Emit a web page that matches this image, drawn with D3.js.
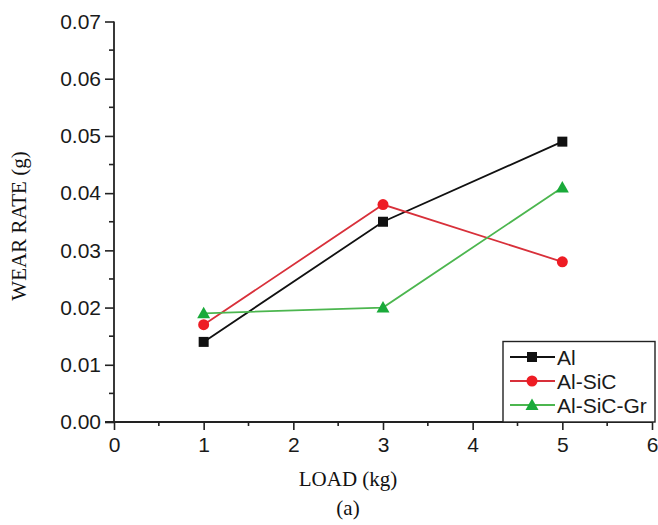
<!DOCTYPE html>
<html><head><meta charset="utf-8">
<script src="https://cdn.jsdelivr.net/npm/d3@7"></script>
<style>body{margin:0;background:#fff}</style>
</head><body>
<script>
const loads = [1, 3, 5];
const alValues = [0.014, 0.035, 0.049];
const alSicValues = [0.017, 0.038, 0.028];
const alSicGrValues = [0.019, 0.020, 0.041];
const seriesNames = ["Al", "Al-SiC", "Al-SiC-Gr"];
const xTicks = [0, 1, 2, 3, 4, 5, 6];
const yTicks = [0, 0.01, 0.02, 0.03, 0.04, 0.05, 0.06, 0.07];

const series = [
  {name: seriesNames[0], values: alValues, color: "#111111", marker: "square"},
  {name: seriesNames[1], values: alSicValues, color: "#d8303a", mcolor: "#ee1c24", marker: "circle"},
  {name: seriesNames[2], values: alSicGrValues, color: "#4cb64f", mcolor: "#1aaa3a", marker: "triangle"}
];

const W = 658, H = 525;
const svg = d3.select("body").append("svg").attr("width", W).attr("height", H);
const x = d3.scaleLinear().domain([0, 6]).range([114, 652]);
const y = d3.scaleLinear().domain([0, 0.07]).range([422, 21.5]);

const axisColor = "#222";
const tickFont = "'Liberation Sans', Arial, Helvetica, sans-serif";
const serifFont = "'Liberation Serif', 'Times New Roman', Times, serif";
const fs = "21px";

// Y axis
const ya = svg.append("g").attr("transform", `translate(${x(0)},0)`)
  .call(d3.axisLeft(y).tickValues(yTicks).tickFormat(d3.format(".2f")).tickSize(9).tickPadding(4));
ya.select(".domain").attr("stroke", axisColor).attr("stroke-width", 1.8).attr("d", `M0,${y(0)}V${y(0.07)}`);
ya.selectAll(".tick line").attr("stroke", axisColor).attr("stroke-width", 1.6);
ya.selectAll(".tick text").style("font-family", tickFont).style("font-size", fs).attr("fill", "#1a1a1a");
// minor y ticks
svg.append("g").selectAll("line").data(d3.range(0.005, 0.07, 0.01)).join("line")
  .attr("x1", x(0) - 5).attr("x2", x(0)).attr("y1", d => y(d)).attr("y2", d => y(d))
  .attr("stroke", axisColor).attr("stroke-width", 1.6);

// X axis
const xa = svg.append("g").attr("transform", `translate(0,${y(0)})`)
  .call(d3.axisBottom(x).tickValues(xTicks).tickFormat(d3.format("d")).tickSize(8).tickPadding(7));
xa.select(".domain").attr("stroke", axisColor).attr("stroke-width", 1.8).attr("d", `M${x(0) - 9},0H${x(6)}`);
xa.selectAll(".tick line").attr("stroke", axisColor).attr("stroke-width", 1.6);
xa.selectAll(".tick text").style("font-family", tickFont).style("font-size", fs).attr("fill", "#1a1a1a");
svg.append("g").selectAll("line").data(d3.range(0.5, 6, 1)).join("line")
  .attr("x1", d => x(d)).attr("x2", d => x(d)).attr("y1", y(0)).attr("y2", y(0) + 4)
  .attr("stroke", axisColor).attr("stroke-width", 1.6);

// Axis titles
svg.append("text").attr("x", 348).attr("y", 486).attr("text-anchor", "middle")
  .style("font-family", serifFont).style("font-size", "21px").attr("fill", "#111")
  .text("LOAD (kg)");
svg.append("text").attr("x", 348).attr("y", 515).attr("text-anchor", "middle")
  .style("font-family", serifFont).style("font-size", "21px").attr("fill", "#111")
  .text("(a)");
svg.append("text").attr("transform", `translate(26,226) rotate(-90)`).attr("text-anchor", "middle")
  .style("font-family", serifFont).style("font-size", "21px").attr("fill", "#111")
  .text("WEAR RATE (g)");

function drawMarker(g, type, cx, cy, color) {
  if (type === "square") {
    g.append("rect").attr("x", cx - 5).attr("y", cy - 5).attr("width", 10).attr("height", 10).attr("fill", color);
  } else if (type === "circle") {
    g.append("circle").attr("cx", cx).attr("cy", cy).attr("r", 5.5).attr("fill", color);
  } else {
    g.append("path").attr("d", `M${cx},${cy - 6.5}L${cx + 6.5},${cy + 5}L${cx - 6.5},${cy + 5}Z`).attr("fill", color);
  }
}

const line = d3.line().x((d, i) => x(loads[i])).y(d => y(d));
series.forEach(s => {
  const g = svg.append("g");
  g.append("path").attr("d", line(s.values)).attr("fill", "none").attr("stroke", s.color).attr("stroke-width", 1.8);
  s.values.forEach((v, i) => drawMarker(g, s.marker, x(loads[i]), y(v), s.mcolor || s.color));
});

// Legend
const lg = svg.append("g");
lg.append("rect").attr("x", 503).attr("y", 341.5).attr("width", 152).attr("height", 80.5)
  .attr("fill", "#fff").attr("stroke", "#222").attr("stroke-width", 1.4);
series.forEach((s, i) => {
  const ly = 357 + i * 24;
  lg.append("line").attr("x1", 510).attr("x2", 555).attr("y1", ly).attr("y2", ly).attr("stroke", s.color).attr("stroke-width", 1.8);
  drawMarker(lg, s.marker, 532, ly, s.mcolor || s.color);
  lg.append("text").attr("x", 557).attr("y", ly + 7.5).style("font-family", tickFont).style("font-size", fs).attr("fill", "#1a1a1a").text(s.name);
});
</script>
</body></html>
